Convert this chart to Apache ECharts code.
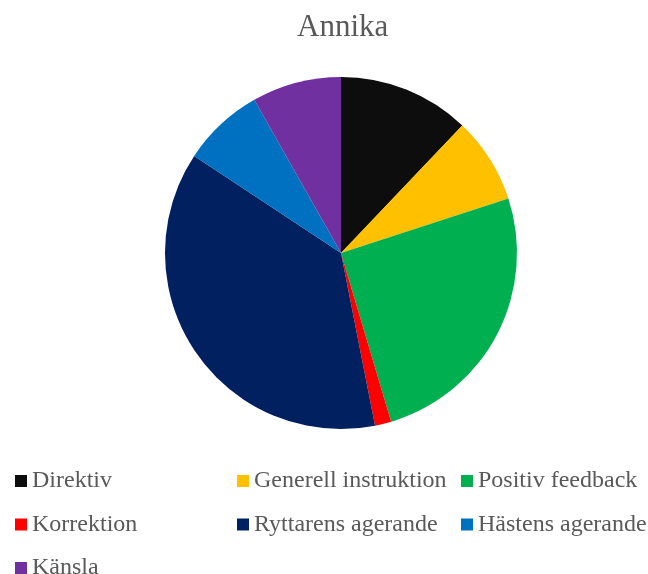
<!DOCTYPE html>
<html>
<head>
<meta charset="utf-8">
<script src="https://cdn.jsdelivr.net/npm/echarts@6/dist/echarts.min.js"></script>
<style>
  html, body { margin: 0; padding: 0; background: #fff; }
  #e1 { width: 648px; height: 574px; }
</style>
</head>
<body>
<div id="e1"></div>
<script>
  // kategorier och andelar (%)
  let categories = ['Direktiv', 'Generell instruktion', 'Positiv feedback', 'Korrektion', 'Ryttarens agerande', 'Hästens agerande', 'Känsla'];
  let values = [12.1, 7.9, 25.4, 1.5, 37.4, 7.5, 8.2];
  let colors = ['#0D0D0D', '#FFC000', '#00B050', '#FF0000', '#002060', '#0070C0', '#7030A0'];

  let myChart = echarts.init(document.getElementById('e1'));

  let legendBase = {
    orient: 'vertical',
    top: 469,
    height: 150,
    padding: 0,
    itemWidth: 12,
    itemHeight: 12,
    itemGap: 19.5,
    icon: 'rect',
    selectedMode: false,
    textStyle: {
      fontFamily: 'Liberation Serif',
      fontSize: 24,
      color: '#595959',
      padding: [0, 0, 0, 0]
    }
  };

  let option = {
    animation: false,
    backgroundColor: '#fff',
    color: colors,
    title: {
      text: 'Annika',
      left: 292,
      top: 7,
      textStyle: {
        fontFamily: 'Liberation Serif',
        fontSize: 31,
        fontWeight: 'normal',
        color: '#595959'
      }
    },
    legend: [
      Object.assign({}, legendBase, {left: 15, data: ['Direktiv', 'Korrektion', 'Känsla']}),
      Object.assign({}, legendBase, {left: 237, data: ['Generell instruktion', 'Ryttarens agerande']}),
      Object.assign({}, legendBase, {left: 461, data: ['Positiv feedback', 'Hästens agerande']})
    ],
    series: [
      {
        name: 'Annika',
        type: 'pie',
        center: [341, 253],
        radius: 176,
        startAngle: 90,
        clockwise: true,
        label: {show: false},
        labelLine: {show: false},
        itemStyle: {borderWidth: 0},
        data: categories.map(function (c, i) {
          return {name: c, value: values[i]};
        })
      }
    ]
  };
  myChart.setOption(option);
</script>
</body>
</html>
